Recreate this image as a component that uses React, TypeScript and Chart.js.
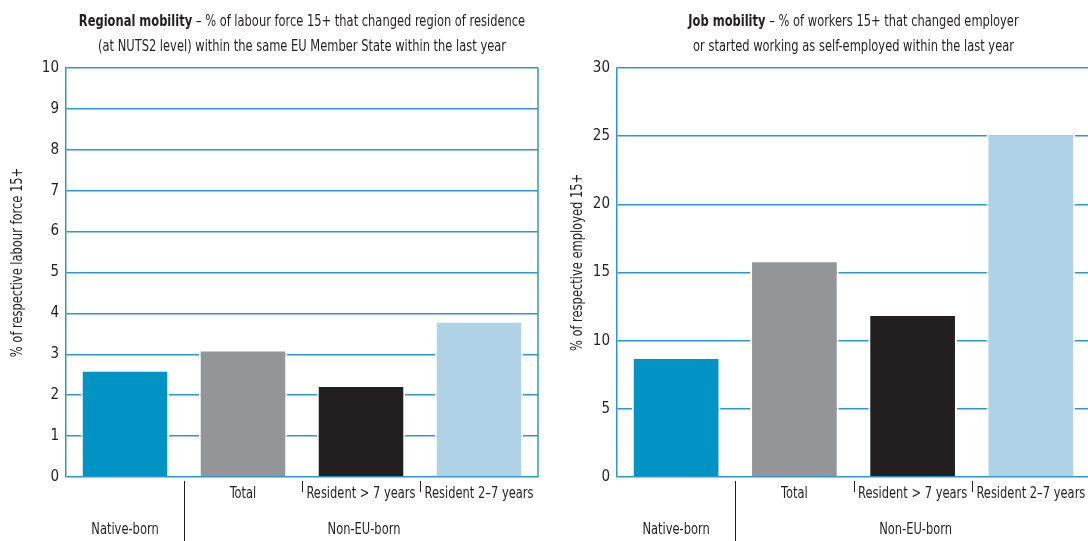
import React, { useEffect, useRef } from 'react';
import { Chart, registerables } from 'chart.js';

Chart.register(...registerables);

const categories = ['Native-born', 'Total', 'Resident > 7 years', 'Resident 2–7 years'];
const groupLabels = ['Native-born', 'Non-EU-born'];
const regionalValues = [2.62, 3.12, 2.25, 3.82];
const jobValues = [8.8, 15.9, 11.95, 25.2];
const barColors = ['#0093c4', '#939598', '#231f20', '#afd2e6'];
const regionalTickMax = 10;
const regionalTickStep = 1;
const jobTickMax = 30;
const jobTickStep = 5;

const FONT = '"DejaVu Sans Condensed", "Liberation Sans Narrow", "Open Sans", sans-serif';
const TEXT = '#231f20';
const BLUE = '#2b98cc';
const SX = 0.85;
const FS = 15;

type Props = {
  values: number[];
  yMax: number;
  yStep: number;
  titleBold: string;
  titleRest: string;
  titleLine2: string;
  yTitle: string;
  left: number;
  width: number;
  axisWidth: number;
  padRight: number;
};

function narrowText(ctx: any, text: string, x: number, y: number, align: string) {
  ctx.save();
  ctx.translate(x, y);
  ctx.scale(SX, 1);
  ctx.textAlign = align;
  ctx.fillText(text, 0, 0);
  ctx.restore();
}

function MobilityChart(p: Props) {
  const ref = useRef<HTMLCanvasElement | null>(null);
  useEffect(() => {
    if (!ref.current) return;
    const overlay = {
      id: 'overlay',
      beforeDatasetsDraw(chart: any) {
        const { ctx, chartArea } = chart;
        ctx.save();
        ctx.strokeStyle = BLUE;
        ctx.lineWidth = 1.5;
        ctx.beginPath();
        ctx.moveTo(chartArea.right, chartArea.top);
        ctx.lineTo(chartArea.right, chartArea.bottom);
        ctx.stroke();
        ctx.restore();
      },
      afterDraw(chart: any) {
        const { ctx, chartArea } = chart;
        const xs = chart.scales.x;
        const bottom = chartArea.bottom;
        ctx.save();
        ctx.fillStyle = TEXT;
        ctx.textBaseline = 'middle';
        // title
        const cx = (chartArea.left + chartArea.right) / 2;
        ctx.font = `bold ${FS}px ${FONT}`;
        const wb = ctx.measureText(p.titleBold).width * SX;
        ctx.font = `${FS}px ${FONT}`;
        const wr = ctx.measureText(p.titleRest).width * SX;
        const x0 = cx - (wb + wr) / 2;
        ctx.font = `bold ${FS}px ${FONT}`;
        narrowText(ctx, p.titleBold, x0, 22, 'left');
        ctx.font = `${FS}px ${FONT}`;
        narrowText(ctx, p.titleRest, x0 + wb, 22, 'left');
        narrowText(ctx, p.titleLine2, cx, 47, 'center');
        // y title
        ctx.save();
        ctx.translate(18, (chartArea.top + chartArea.bottom) / 2 - 10);
        ctx.rotate(-Math.PI / 2);
        narrowText(ctx, p.yTitle, 0, 0, 'center');
        ctx.restore();
        // category labels
        const px = categories.map((_, i) => xs.getPixelForValue(i));
        for (let i = 1; i < categories.length; i++) {
          narrowText(ctx, categories[i], px[i], bottom + 17, 'center');
        }
        narrowText(ctx, groupLabels[0], px[0], bottom + 53, 'center');
        narrowText(ctx, groupLabels[1], (px[1] + px[3]) / 2 + 3, bottom + 53, 'center');
        // separators
        ctx.strokeStyle = TEXT;
        ctx.lineWidth = 1;
        const b01 = Math.round((px[0] + px[1]) / 2) + 0.5;
        ctx.beginPath();
        ctx.moveTo(b01, bottom + 4);
        ctx.lineTo(b01, chart.height);
        for (let i = 1; i < 3; i++) {
          const b = Math.round((px[i] + px[i + 1]) / 2) + 0.5;
          ctx.moveTo(b, bottom + 4);
          ctx.lineTo(b, bottom + 15);
        }
        ctx.stroke();
        ctx.restore();
      },
    };
    const chart = new Chart(ref.current, {
      type: 'bar',
      data: {
        labels: categories,
        datasets: [
          {
            data: p.values,
            backgroundColor: barColors,
            borderColor: '#ffffff',
            borderWidth: 2,
            borderSkipped: 'bottom',
            barPercentage: 0.75,
            categoryPercentage: 1,
          },
        ],
      },
      options: {
        animation: false,
        responsive: false,
        layout: { padding: { top: 68, bottom: 0, left: 0, right: p.padRight } },
        plugins: { legend: { display: false }, tooltip: { enabled: false }, title: { display: false } },
        scales: {
          x: {
            ticks: { display: false },
            grid: { display: false },
            border: { display: false },
            afterFit: (s: any) => {
              s.height = 64;
            },
          },
          y: {
            min: 0,
            max: p.yMax,
            ticks: { stepSize: p.yStep, color: TEXT, font: { family: FONT, size: 15 }, padding: 7 },
            grid: { color: BLUE, lineWidth: 1.5, drawTicks: false },
            border: { color: BLUE, width: 1.5 },
            afterFit: (s: any) => {
              s.width = p.axisWidth;
            },
          },
        },
      },
      plugins: [overlay],
    } as any);
    return () => chart.destroy();
  }, []);
  return (
    <canvas
      ref={ref}
      width={p.width}
      height={541}
      style={{ position: 'absolute', left: p.left, top: 0, width: p.width, height: 541, display: 'block' }}
    />
  );
}

export default function App() {
  return (
    <div style={{ position: 'fixed', left: 0, top: 0, width: 1088, height: 541, overflow: 'hidden', background: '#fff' }}>
      <MobilityChart
        values={regionalValues}
        yMax={regionalTickMax}
        yStep={regionalTickStep}
        titleBold="Regional mobility"
        titleRest=" – % of labour force 15+ that changed region of residence"
        titleLine2="(at NUTS2 level) within the same EU Member State within the last year"
        yTitle="% of respective labour force 15+"
        left={0}
        width={560}
        axisWidth={66}
        padRight={22}
      />
      <MobilityChart
        values={jobValues}
        yMax={jobTickMax}
        yStep={jobTickStep}
        titleBold="Job mobility"
        titleRest=" – % of workers 15+ that changed employer"
        titleLine2="or started working as self-employed within the last year"
        yTitle="% of respective employed 15+"
        left={560}
        width={540}
        axisWidth={57}
        padRight={10}
      />
    </div>
  );
}
